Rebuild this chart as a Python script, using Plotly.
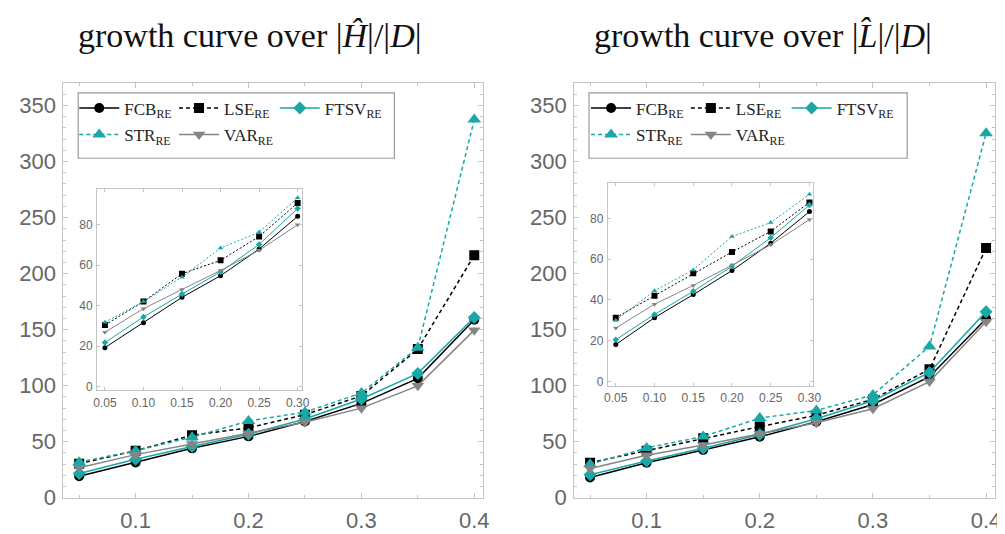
import plotly.graph_objects as go

x_vals = [0.05, 0.10, 0.15, 0.20, 0.25, 0.30, 0.35, 0.40]

# Left panel: growth curve over |H^|/|D|
H_FCB = [19.2, 31.5, 44.1, 54.8, 68.0, 84.2, 106.6, 158.9]
H_LSE = [30.4, 42.0, 55.8, 62.4, 74.2, 90.8, 132.7, 216.4]
H_FTSV = [21.7, 34.4, 45.7, 56.7, 70.3, 88.1, 111.0, 160.9]
H_STR = [31.8, 42.0, 54.1, 68.5, 76.4, 93.4, 133.9, 337.5]
H_VAR = [26.8, 38.5, 48.0, 57.4, 67.4, 80.0, 99.9, 149.6]

# Right panel: growth curve over |L^|/|D|
L_FCB = [18.1, 31.3, 42.6, 54.4, 67.8, 83.3, 108.0, 159.7]
L_LSE = [31.3, 42.0, 53.1, 63.5, 73.6, 87.8, 114.7, 222.8]
L_FTSV = [20.5, 32.9, 44.2, 56.5, 70.5, 86.5, 111.8, 166.1]
L_STR = [29.9, 44.5, 54.7, 71.1, 77.9, 91.8, 135.1, 325.3]
L_VAR = [26.2, 37.9, 47.1, 57.1, 67.0, 79.4, 103.7, 157.0]

titles = ["growth curve over |<i>Ĥ</i>|/|<i>D</i>|",
          "growth curve over |<i>L\u0302</i>|/|<i>D</i>|"]
inset_n = 6  # inset shows first six points (0.05..0.30)

TEAL = "#1aa7a7"
GRAY = "#858585"
series_style = [
    ("FCB", "black", "solid", "circle", 10),
    ("LSE", "black", "4px,3px", "square", 10),
    ("FTSV", TEAL, "solid", "diamond", 10),
    ("STR", TEAL, "4px,3px", "triangle-up", 12),
    ("VAR", GRAY, "solid", "triangle-down", 11),
]
panels = [[H_FCB, H_LSE, H_FTSV, H_STR, H_VAR], [L_FCB, L_LSE, L_FTSV, L_STR, L_VAR]]

W, H = 1005, 534
fig = go.Figure()

def px(v):
    return v / W

def py(v):
    return 1 - v / H

main_dom = [((52, 477), (77, 502)), ((569, 995), (77, 502))]
inset_dom = [((86, 293), (186, 392)), ((603, 811), (179, 387))]

# legend entry positions (sample-line start x, row centre y) per panel
legend_cols = [[79, 180, 282], [597, 698, 800]]
legend_rows = [107, 134]
entry_grid = [(0, 0), (0, 1), (0, 2), (1, 0), (1, 1)]

def lgname(p, i):
    k = p * 5 + i + 1
    return "legend" if k == 1 else f"legend{k}"

for p in range(2):
    data = panels[p]
    xa_main = "x" if p == 0 else "x2"
    ya_main = "y" if p == 0 else "y2"
    xa_in = "x3" if p == 0 else "x4"
    ya_in = "y3" if p == 0 else "y4"
    for i, (name, color, dash, sym, msize) in enumerate(series_style):
        fig.add_trace(go.Scatter(
            x=x_vals, y=data[i], mode="lines+markers",
            name=f"{name}<sub>RE</sub>",
            line=dict(color=color, width=1.5, dash=dash),
            marker=dict(color=color, symbol=sym, size=msize),
            xaxis=xa_main, yaxis=ya_main, legend=lgname(p, i), showlegend=True,
        ))
    for i, (name, color, dash, sym, msize) in enumerate(series_style):
        fig.add_trace(go.Scatter(
            x=x_vals[:inset_n], y=data[i][:inset_n], mode="lines+markers",
            line=dict(color=color, width=1, dash="2px,2px" if dash != "solid" else "solid"),
            marker=dict(color=color, symbol=sym, size=5 if i != 1 else 6),
            xaxis=xa_in, yaxis=ya_in, showlegend=False,
        ))

frame = "#c4c4c4"
tickfont_main = dict(family="Liberation Sans, Arial, sans-serif", size=22, color="#666666")
tickfont_in = dict(family="Liberation Sans, Arial, sans-serif", size=12, color="#666666")

def main_x(dom):
    return dict(domain=[px(dom[0]), px(dom[1])], range=[0.036, 0.408],
                tickvals=[0.1, 0.2, 0.3, 0.4], ticktext=["0.1", "0.2", "0.3", "0.4"],
                showgrid=False, zeroline=False, showline=True, linecolor=frame,
                linewidth=1, mirror="ticks", ticks="inside", ticklen=5, tickcolor=frame,
                minor=dict(dtick=0.05, tick0=0.0, ticks="inside", ticklen=3, tickcolor=frame),
                tickfont=tickfont_main, ticklabelstandoff=3, ticklabeloverflow="allow")

def main_y(dom, anchor):
    return dict(domain=[py(dom[1]), py(dom[0])], range=[0, 370], anchor=anchor,
                tickvals=[0, 50, 100, 150, 200, 250, 300, 350],
                showgrid=False, zeroline=False, showline=True, linecolor=frame,
                linewidth=1, mirror="ticks", ticks="inside", ticklen=5, tickcolor=frame,
                minor=dict(dtick=10, ticks="inside", ticklen=3, tickcolor=frame),
                tickfont=tickfont_main, ticklabelstandoff=2, ticklabeloverflow="allow")

def inset_x(dom, anchor):
    return dict(domain=[px(dom[0]), px(dom[1])], range=[0.0397, 0.305], anchor=anchor,
                tickvals=[0.05, 0.10, 0.15, 0.20, 0.25, 0.30], tickformat=".2f",
                showgrid=False, zeroline=False, showline=True, linecolor=frame,
                linewidth=1, mirror="ticks", ticks="inside", ticklen=3, tickcolor=frame,
                tickfont=tickfont_in, ticklabelstandoff=1)

def inset_y(dom, anchor):
    return dict(domain=[py(dom[1]), py(dom[0])], range=[-2, 97.5], anchor=anchor,
                tickvals=[0, 20, 40, 60, 80],
                showgrid=False, zeroline=False, showline=True, linecolor=frame,
                linewidth=1, mirror="ticks", ticks="inside", ticklen=3, tickcolor=frame,
                tickfont=tickfont_in, ticklabelstandoff=1)

fig.update_layout(
    width=W, height=H, margin=dict(l=0, r=0, t=0, b=0),
    paper_bgcolor="white", plot_bgcolor="white",
    xaxis=dict(main_x(main_dom[0][0]), anchor="y"),
    yaxis=main_y(main_dom[0][1], "x"),
    xaxis2=dict(main_x(main_dom[1][0]), anchor="y2"),
    yaxis2=main_y(main_dom[1][1], "x2"),
    xaxis3=inset_x(inset_dom[0][0], "y3"),
    yaxis3=inset_y(inset_dom[0][1], "x3"),
    xaxis4=inset_x(inset_dom[1][0], "y4"),
    yaxis4=inset_y(inset_dom[1][1], "x4"),
    showlegend=True,
)

legfont = dict(family="Liberation Serif, DejaVu Serif, serif", size=17, color="#222222")
leg_common = dict(orientation="v", bgcolor="rgba(0,0,0,0)", borderwidth=0, font=legfont,
                  itemwidth=40, xanchor="left", yanchor="middle", itemsizing="trace")
for p in range(2):
    for i in range(5):
        r, c = entry_grid[i]
        fig.update_layout(**{lgname(p, i): dict(leg_common,
                                                 x=px(legend_cols[p][c] - 16),
                                                 y=py(legend_rows[r] - 4))})

legend_box = [(67, 387, 87, 154), (584, 906, 87, 154)]
for p in range(2):
    x0, x1, y0, y1 = legend_box[p]
    fig.add_shape(type="rect", xref="paper", yref="paper",
                  x0=px(x0), x1=px(x1), y0=py(y1), y1=py(y0),
                  line=dict(color="#9a9a9a", width=1.2), fillcolor="rgba(0,0,0,0)", layer="above")

for p in range(2):
    xa_in = "x3" if p == 0 else "x4"
    ya_in = "y3" if p == 0 else "y4"
    fig.add_shape(type="rect", xref=f"{xa_in} domain", yref=f"{ya_in} domain",
                  x0=0, x1=1, y0=0, y1=1, fillcolor="white", line=dict(width=0), layer="below")

title_x = [241, 760]
for p in range(2):
    fig.add_annotation(text=titles[p], x=px(title_x[p]), y=py(28), xref="paper", yref="paper",
                       showarrow=False, xanchor="center", yanchor="middle",
                       font=dict(family="Liberation Serif, DejaVu Serif, serif", size=34, color="#111111"))

fig.write_html("out.html")
